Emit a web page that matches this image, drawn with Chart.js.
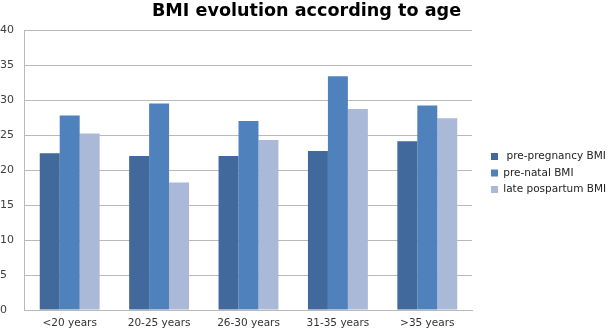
<!DOCTYPE html>
<html>
<head>
<meta charset="utf-8">
<script src="https://cdn.jsdelivr.net/npm/chart.js@4"></script>
<style>
  html, body { margin: 0; padding: 0; background: #fff; }
  #wrap { width: 613px; height: 328px; }
</style>
</head>
<body>
<div id="wrap"><canvas id="c"></canvas></div>
<script>
const ageGroups = ['<20 years', '20-25 years', '26-30 years', '31-35 years', '>35 years'];
const seriesNames = [' pre-pregnancy BMI', 'pre-natal BMI', 'late pospartum BMI'];
const prePregnancy = [22.4, 22.0, 22.0, 22.7, 24.1];
const preNatal = [27.8, 29.5, 27.0, 33.4, 29.2];
const latePostpartum = [25.2, 18.2, 24.3, 28.7, 27.4];
const yTicks = [0, 5, 10, 15, 20, 25, 30, 35, 40];

const colors = ['#41699c', '#4f81bd', '#aab9d8'];
const gridColor = '#b9b9b9';

// the legend sits to the right of the plot, with empty room before it
const legendWidth = 141;
const legendShift = 13;
const legendDrop = 3;
const legendSpot = {
  id: 'legendSpot',
  beforeInit(chart) {
    const lg = chart.legend;
    const fit = lg.fit;
    lg.fit = function () { fit.call(this); this.width = legendWidth; };
    const draw = lg.draw;
    lg.draw = function () {
      this.left += legendShift;
      this.top += legendDrop;
      this.bottom += legendDrop;
      draw.call(this);
      this.left -= legendShift;
      this.top -= legendDrop;
      this.bottom -= legendDrop;
    };
  }
};

const ctx = document.getElementById('c').getContext('2d');
new Chart(ctx, {
  type: 'bar',
  data: {
    labels: ageGroups,
    datasets: [prePregnancy, preNatal, latePostpartum].map((d, i) => ({
      label: seriesNames[i],
      data: d,
      backgroundColor: colors[i],
      borderWidth: 0,
      categoryPercentage: 0.67,
      barPercentage: 1
    }))
  },
  options: {
    responsive: true,
    maintainAspectRatio: false,
    animation: false,
    layout: { padding: { left: 0, right: 0, top: 0, bottom: -8.6 } },
    plugins: {
      title: {
        display: true,
        text: 'BMI evolution according to age',
        color: '#000',
        font: { family: 'DejaVu Sans', size: 17.6, weight: 'bold' },
        padding: { top: 0.5, bottom: 8.4 }
      },
      legend: {
        position: 'right',
        fullSize: false,
        labels: {
          boxWidth: 7,
          boxHeight: 7,
          padding: 6,
          color: '#222',
          font: { family: 'DejaVu Sans', size: 10.5 }
        }
      },
      tooltip: { enabled: false }
    },
    scales: {
      x: {
        grid: { display: false, drawTicks: false, tickLength: 0 },
        border: { display: true, color: gridColor },
        ticks: {
          padding: 7,
          color: '#333',
          font: { family: 'DejaVu Sans', size: 10.5 }
        }
      },
      y: {
        min: 0,
        max: 40,
        afterBuildTicks(axis) { axis.ticks = yTicks.map(v => ({ value: v })); },
        grid: { color: gridColor, drawTicks: false, tickLength: 0 },
        border: { display: true, color: gridColor },
        ticks: {
          padding: 5.5,
          crossAlign: 'far',
          color: '#404040',
          font: { family: 'DejaVu Sans', size: 11 }
        }
      }
    }
  },
  plugins: [legendSpot]
});
</script>
</body>
</html>
